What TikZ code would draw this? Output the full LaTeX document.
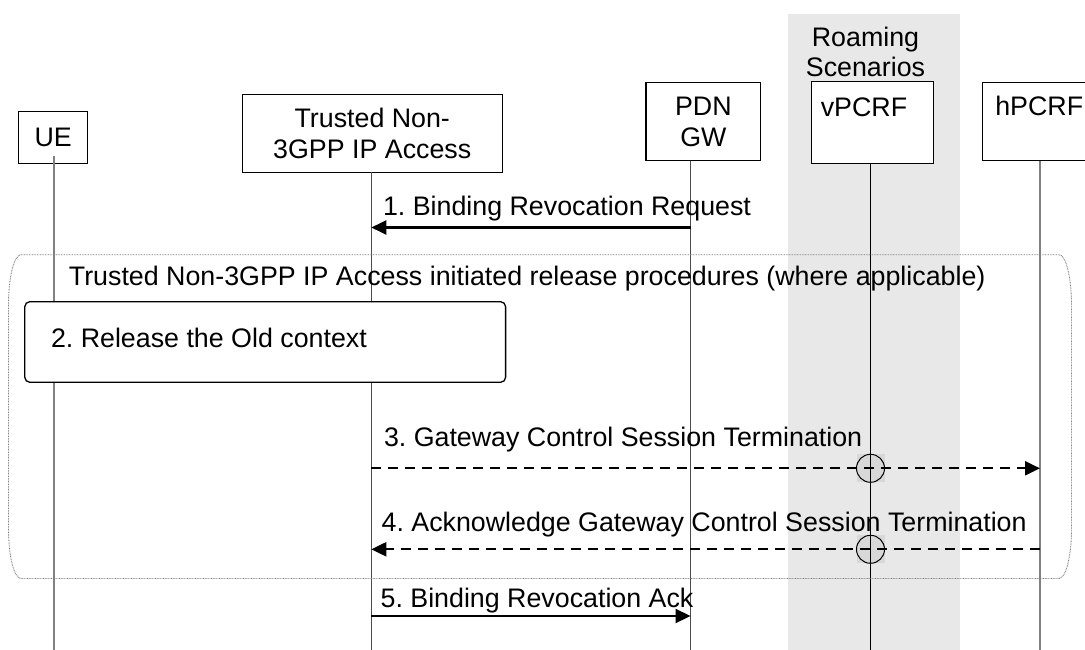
\documentclass[tikz,border=0pt]{standalone}
\usepackage{fontspec}
\setmainfont{Liberation Sans}
\usetikzlibrary{arrows.meta}
\definecolor{bandgray}{RGB}{232,232,232}
\definecolor{crossgray}{RGB}{216,216,216}
\definecolor{lifegray}{RGB}{128,128,128}
\frenchspacing
\begin{document}
\begin{tikzpicture}[x=1pt,y=-1pt,
  every node/.style={font=\fontsize{26.8}{31}\selectfont, inner sep=0pt, outer sep=0pt},
  hdr/.style={draw=black, line width=1.1pt, fill=white, rectangle, align=center},
  life/.style={line width=1pt, draw=black!70},
  msg/.style={line width=2.2pt, -{Triangle[length=15pt,width=14pt]}},
  dmsg/.style={msg, dash pattern=on 10pt off 7pt},
  lbl/.style={anchor=base west},
  xing/.style={circle, draw=black, line width=1pt, minimum size=28pt}
]
\useasboundingbox (0,0) rectangle (1085,650);
\clip (0,0) rectangle (1085,650);
\fill[white] (0,0) rectangle (1085,650);
% roaming band
\fill[bandgray] (788.2,14) rectangle (959.9,650);
\node[align=center, font=\fontsize{26.8}{29.3}\selectfont] (roam) at (865.5,51.9) {Roaming\\Scenarios};

% lifeline x positions
\coordinate (ueL) at (53.7,650);
\coordinate (trL) at (371.3,650);
\coordinate (pdnL) at (690.5,650);
\coordinate (vpL) at (870.5,650);
\coordinate (hpL) at (1040,650);
% message levels
\coordinate (m1) at (0,227.5);
\coordinate (m3) at (0,468.3);
\coordinate (m4) at (0,549.3);
\coordinate (m5) at (0,616);

% grey squares behind crossing circles
\fill[crossgray] (856.5,454.3) rectangle (884.5,482.3);
\fill[crossgray] (856.5,535.3) rectangle (884.5,563.3);

% header boxes
\node[hdr, minimum width=69.2pt, minimum height=52pt] (ue) at (53.2,137.3) {UE};
\node[hdr, minimum width=259.7pt, minimum height=78pt] (tr) at (372.25,133.3) {Trusted Non-\\3GPP IP Access};
\node[hdr, minimum width=114.7pt, minimum height=78.4pt] (pdn) at (703.35,121.5) {PDN\\GW};
\node[hdr, minimum width=122pt, minimum height=81.6pt] (vp) at (872.5,122.5) {};
\node[lbl] (vpT) at (820.8,116.7) {vPCRF};
\node[hdr, minimum width=110pt, minimum height=78.4pt] (hp) at (1037.5,121.5) {};
\node[lbl] (hpT) at (995.3,116) {hPCRF};

% lifelines
\draw[line width=1.6pt, lifegray] (53.7,156) -- (ueL);
\draw[life] (tr.south -| trL) -- (trL);
\draw[life] (pdn.south -| pdnL) -- (pdnL);
\draw[line width=1pt, black] (vp.south -| vpL) -- (vpL);
\draw[line width=1.4pt, lifegray] (hp.south -| hpL) -- (hpL);

% outer dotted frame
\draw[gray, line width=0.9pt, dash pattern=on 0.8pt off 0.8pt]
  (21,254.7) -- (1059,254.7)
  .. controls (1065.9,254.7) and (1071.5,277.1) .. (1071.5,304.7)
  -- (1071.5,528.5)
  .. controls (1071.5,556.1) and (1065.9,578.5) .. (1059,578.5)
  -- (21,578.5)
  .. controls (14.1,578.5) and (8.5,556.1) .. (8.5,528.5)
  -- (8.5,304.7)
  .. controls (8.5,277.1) and (14.1,254.7) .. (21,254.7) -- cycle;
\node[lbl] (outerT) at (68.9,285.7) {Trusted Non-3GPP IP Access initiated release procedures (where applicable)};

% step 2 box
\node[draw=black, line width=1.3pt, fill=white, rounded corners=5pt, minimum width=480.8pt, minimum height=80.6pt] (rel) at (265.2,342) {};
\node[lbl] (relT) at (51,347.3) {2. Release the Old context};

% messages
\draw[msg] (pdnL |- m1) -- (trL |- m1);
\node[lbl] (l1) at (383,215.3) {1. Binding Revocation Request};

\draw[dmsg] (trL |- m3) -- (hpL |- m3);
\node[lbl] (l3) at (384,446.7) {3. Gateway Control Session Termination};

\draw[dmsg] (hpL |- m4) -- (trL |- m4);
\node[lbl] (l4) at (381.6,531.7) {4. Acknowledge Gateway Control Session Termination};

\draw[msg] (trL |- m5) -- (pdnL |- m5);
\node[lbl] (l5) at (380.6,607.3) {5. Binding Revocation Ack};

% crossing markers
\node[xing] (x3) at (vpL |- m3) {};
\node[xing] (x4) at (vpL |- m4) {};
\end{tikzpicture}
\end{document}
